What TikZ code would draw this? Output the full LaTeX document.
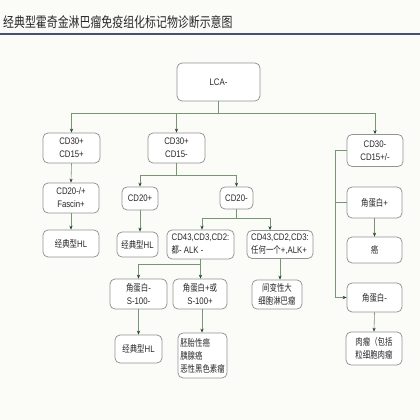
\documentclass[tikz,border=0pt]{standalone}
\usepackage{fontspec}
\setmainfont{Liberation Sans}[FakeStretch=0.82]
\newfontfamily\cjk{Noto Sans CJK SC}[FakeStretch=0.78]
\newfontfamily\titlefont{Noto Sans CJK SC}[FakeStretch=0.78]
\newcommand{\zh}[1]{{\cjk #1}}
\usetikzlibrary{arrows.meta}
\definecolor{bg}{RGB}{251,251,247}
\definecolor{boxline}{RGB}{145,148,145}
\definecolor{conn}{RGB}{120,150,115}
\definecolor{tip}{RGB}{40,70,45}
\definecolor{rule}{RGB}{70,82,110}
\definecolor{txt}{RGB}{40,40,40}
\tikzset{
  box/.style={draw=boxline, line width=0.75pt, rounded corners=5pt, fill=white,
    inner sep=1pt, align=center, font=\fontsize{9.5}{13}\selectfont, text=txt},
  lbox/.style={box, align=left},
  conline/.style={draw=conn, line width=0.6pt},
  arr/.style={conline, -{Stealth[length=4pt,width=3.2pt,fill=tip,color=tip]}},
}
\begin{document}
\begin{tikzpicture}[x=1pt,y=-1pt]
\useasboundingbox (0,0) rectangle (420,420);
\fill[bg] (0,0) rectangle (420,420);
% title
\node[anchor=west, inner sep=0pt, text=txt, font=\titlefont\fontsize{14}{16}\selectfont] (title) at (3,22) {经典型霍奇金淋巴瘤免疫组化标记物诊断示意图};
\draw[rule, line width=1.6pt] (0,34) -- (420,34);
% nodes
\node[box, minimum width=83pt, minimum height=38pt] (lca) at (218.5,82) {LCA-};
\node[box, minimum width=57pt, minimum height=30pt] (a1) at (71.5,148) {CD30+\\CD15+};
\node[box, minimum width=57pt, minimum height=30pt] (a2) at (176.5,148) {CD30+\\CD15-};
\node[box, minimum width=56pt, minimum height=32pt] (a3) at (375,150.5) {CD30-\\CD15+/-};
\node[box, minimum width=56pt, minimum height=30pt] (b1) at (71,198) {CD20-/+\\Fascin+};
\node[box, minimum width=56pt, minimum height=27pt] (c1) at (71,243.5) {\zh{经典型}HL};
\node[box, minimum width=36pt, minimum height=23pt] (b2) at (140,198.5) {CD20+};
\node[box, minimum width=41pt, minimum height=25pt] (c2) at (137.5,244.5) {\zh{经典型}HL};
\node[box, minimum width=33pt, minimum height=22pt] (b3) at (236.5,198) {CD20-};
\node[lbox, minimum width=67pt, minimum height=29pt] (d1) at (200.5,244.5) {CD43,CD3,CD2:\\\zh{都}- ALK -};
\node[lbox, minimum width=66pt, minimum height=28pt] (d2) at (280,244.5) {CD43,CD2,CD3:\\\zh{任何一个}+,ALK+};
\node[box, minimum width=57pt, minimum height=30pt] (e1) at (138.5,294) {\zh{角蛋白}-\\S-100-};
\node[box, minimum width=54pt, minimum height=30pt] (e2) at (200,294) {\zh{角蛋白}+\zh{或}\\S-100+};
\node[box, minimum width=50pt, minimum height=29pt] (e3) at (277,294.5) {\zh{间变性大}\\\zh{细胞淋巴瘤}};
\node[box, minimum width=47pt, minimum height=28pt] (f1) at (138.5,349) {\zh{经典型}HL};
\node[lbox, minimum width=49pt, minimum height=45pt] (f2) at (202.5,355.5) {\zh{胚胎性癌}\\\zh{胰腺癌}\\\zh{恶性黑色素瘤}};
\node[box, minimum width=55pt, minimum height=31pt] (r1) at (374.5,202.5) {\zh{角蛋白}+};
\node[box, minimum width=55pt, minimum height=26pt] (r2) at (374.5,250) {\zh{癌}};
\node[box, minimum width=55pt, minimum height=29pt] (r3) at (374.5,297.5) {\zh{角蛋白}-};
\node[box, minimum width=56pt, minimum height=33pt] (r4) at (374,348.5) {\zh{肉瘤（包括}\\\zh{粒细胞肉瘤}};
% junctions
\coordinate (j0) at (218.5,113);
\coordinate (j1) at (176.5,175);
\coordinate (j2) at (236.5,218);
\coordinate (j3) at (200.5,264);
\coordinate (k1) at (335,150.5);
\coordinate (k2) at (335,202.5);
% connectors
\draw[conline] (lca.south) -- (j0);
\draw[arr] (j0) -| (a1.north);
\draw[arr] (j0) -| (a2.north);
\draw[arr] (j0) -| (a3.north);
\draw[arr] (a1.south) -- (b1.north);
\draw[arr] (b1.south) -- (c1.north);
\draw[conline] (a2.south) -- (j1);
\draw[arr] (j1) -| (b2.north);
\draw[arr] (j1) -| (b3.north);
\draw[arr] (b2.south) -- (b2.south |- c2.north);
\draw[conline] (b3.south) -- (j2);
\draw[arr] (j2) -| ([xshift=1.5pt]d1.north);
\draw[arr] (j2) -| ([xshift=-10pt]d2.north);
\draw[arr] (d1.south) -- (d1.south |- e2.north);
\draw[arr] (j3) -| (e1.north);
\draw[arr] (d2.south) -- (d2.south |- e3.north);
\draw[arr] (e1.south) -- (f1.north);
\draw[arr] ([xshift=2pt]e2.south) -- ([xshift=2pt]e2.south |- f2.north);
\draw[conline] (a3.west) -- (k1);
\draw[arr] (k1) |- (r3.west);
\draw[conline] (k2) -- (r1.west);
\draw[arr] (r1.south) -- (r2.north);
\draw[arr] (r3.south) -- (r4.north);
\end{tikzpicture}
\end{document}
